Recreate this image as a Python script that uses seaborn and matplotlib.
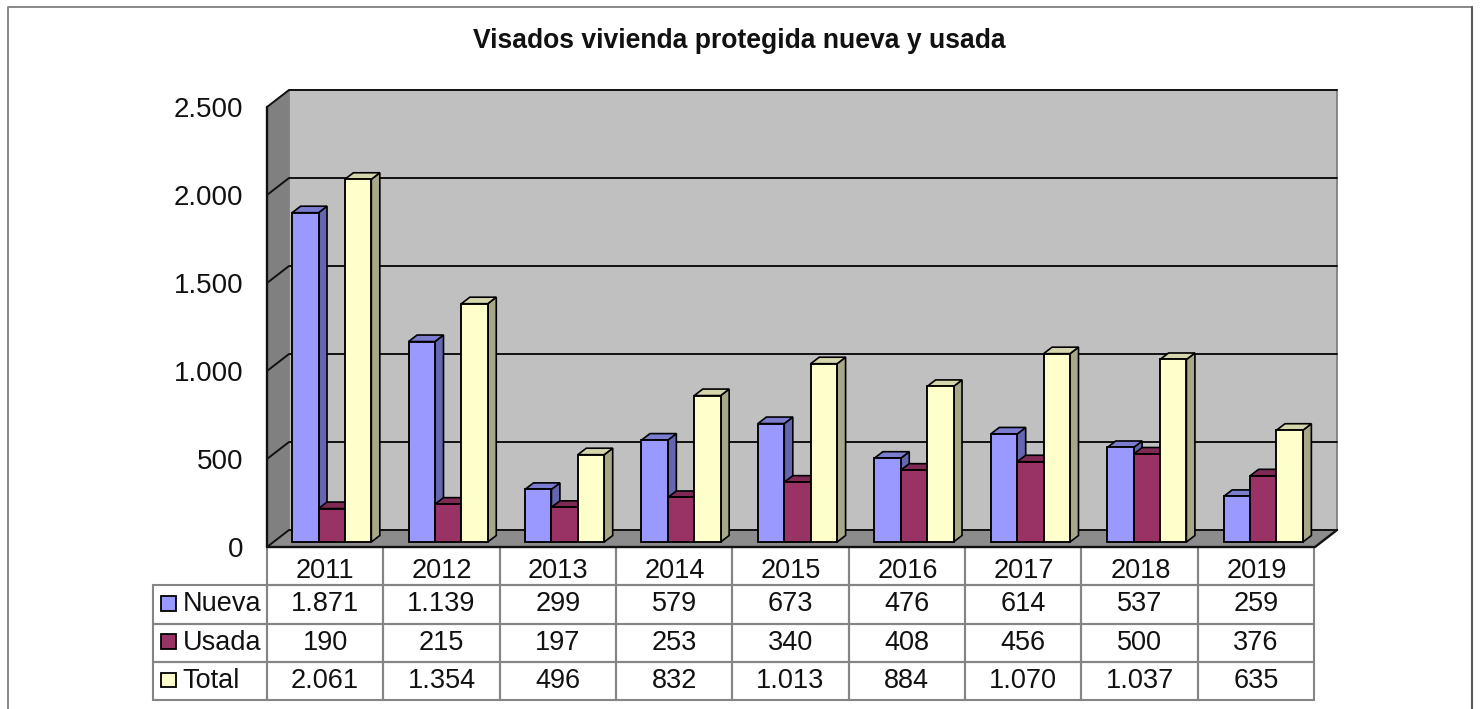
import matplotlib
matplotlib.use("Agg")
import matplotlib.pyplot as plt
import pandas as pd
import seaborn as sns
from matplotlib.patches import Polygon, Rectangle
from matplotlib.lines import Line2D
from matplotlib.table import Table
from matplotlib.transforms import Affine2D

TITLE = "Visados vivienda protegida nueva y usada"
YEARS = ["2011", "2012", "2013", "2014", "2015", "2016", "2017", "2018", "2019"]
NUEVA = [1871, 1139, 299, 579, 673, 476, 614, 537, 259]
USADA = [190, 215, 197, 253, 340, 408, 456, 500, 376]
TOTAL = [2061, 1354, 496, 832, 1013, 884, 1070, 1037, 635]
SERIES = ["Nueva", "Usada", "Total"]
Y_TICKS = [0, 500, 1000, 1500, 2000, 2500]

FRONT = {"Nueva": "#9999FF", "Usada": "#993366", "Total": "#FFFFCC"}
SIDE = {"Nueva": "#6666B0", "Usada": "#661F44", "Total": "#A8A888"}
TOP = {"Nueva": "#7C7CD0", "Usada": "#7F2A55", "Total": "#D6D6AC"}


def fmt(v):
    return f"{v:,}".replace(",", ".")


df = pd.DataFrame({"Año": YEARS * 3,
                   "Serie": [s for s in SERIES for _ in YEARS],
                   "Visados": NUEVA + USADA + TOTAL})

sns.set_theme(style="white")
plt.rcParams["font.family"] = ["Liberation Sans", "DejaVu Sans"]

W, H = 1481, 709
fig = plt.figure(figsize=(W / 100, H / 100), dpi=100, facecolor="white")
L, R, T, B = 267, 1315, 107, 547
ax = fig.add_axes([L / W, (H - B) / H, (R - L) / W, (B - T) / H])

sns.barplot(data=df, x="Año", y="Visados", hue="Serie", order=YEARS, hue_order=SERIES,
            palette=FRONT, width=0.68, gap=0, dodge=True, saturation=1, legend=False,
            edgecolor="black", linewidth=1.35, ax=ax)
ax.set_xlim(-0.5, 8.5)
ax.set_ylim(0, 2500)
ax.set_xlabel("")
ax.set_ylabel("")
for s in ax.spines.values():
    s.set_visible(False)
ax.patch.set_visible(False)
ax.set_yticks(Y_TICKS, [fmt(v) for v in Y_TICKS], fontsize=20, color="#111111")
ax.tick_params(axis="y", length=0, pad=17)
ax.tick_params(axis="x", length=0, pad=8, labelsize=19.5, labelcolor="#111111")


def shift(dx, dy):
    return ax.transData + Affine2D().translate(dx, dy)


# Caja 3D: paredes, suelo y rejilla
WALL_DX, WALL_DY = 22, 17
x0, x1 = -0.5, 8.5
back = shift(WALL_DX, WALL_DY)
ax.add_patch(Rectangle((x0, 0), x1 - x0, 2500, transform=back, fc="#C0C0C0",
                       ec="#808080", lw=1.3, clip_on=False, zorder=0.1))
wall_px = ax.transData.transform([(x0, 0), (x0, 2500)])
floor_px = ax.transData.transform([(x1, 0)])
(lx, by), (_, ty) = wall_px
rx = floor_px[0][0]
ax.add_patch(Polygon([(lx, by), (lx, ty), (lx + WALL_DX, ty + WALL_DY), (lx + WALL_DX, by + WALL_DY)],
                     transform=None, fc="#808080", ec="none", clip_on=False, zorder=0.2))
ax.add_patch(Polygon([(lx, by), (rx, by), (rx + WALL_DX, by + WALL_DY), (lx + WALL_DX, by + WALL_DY)],
                     transform=None, fc="#8C8C8C", ec="none", clip_on=False, zorder=0.2))
for v in Y_TICKS:
    px = ax.transData.transform((x0, v))
    prx = ax.transData.transform((x1, v))
    ax.add_line(Line2D([px[0], px[0] + WALL_DX, prx[0] + WALL_DX],
                       [px[1], px[1] + WALL_DY, prx[1] + WALL_DY],
                       transform=None, color="#111111", lw=1.4, clip_on=False, zorder=0.3))
ax.add_line(Line2D([lx, lx, rx, rx + WALL_DX], [ty, by, by, by + WALL_DY], transform=None,
                   color="#111111", lw=1.7, clip_on=False, zorder=0.4))

# Barras con caras laterales y superior
BAR_DX, BAR_DY = 6.5, 5
SIDE_DX, SIDE_DY = 8.5, 6.5
for h, (serie, cont) in enumerate(zip(SERIES, ax.containers)):
    for i, bar in enumerate(cont.patches):
        z = 1 + i + h * 0.1
        bar.set_transform(shift(BAR_DX, BAR_DY))
        bar.set_zorder(z + 0.02)
        bar.set_clip_on(False)
        (a, b0) = shift(BAR_DX, BAR_DY).transform((bar.get_x(), 0))
        (c, b1) = shift(BAR_DX, BAR_DY).transform((bar.get_x() + bar.get_width(), bar.get_height()))
        ax.add_patch(Polygon([(c, b0), (c + SIDE_DX, b0 + SIDE_DY), (c + SIDE_DX, b1 + SIDE_DY), (c, b1)],
                             transform=None, fc=SIDE[serie], ec="black", lw=1.2,
                             clip_on=False, zorder=z))
        ax.add_patch(Polygon([(a, b1), (a + SIDE_DX, b1 + SIDE_DY), (c + SIDE_DX, b1 + SIDE_DY), (c, b1)],
                             transform=None, fc=TOP[serie], ec="black", lw=1.2,
                             clip_on=False, zorder=z + 0.01))

# Tabla de datos
TL, TB = 153, 700
col0, colw = L - TL, (1314 - L) / len(YEARS)
rowh = (TB - B) / 4
GRID = "#858585"
tab = Table(ax, bbox=[(TL - L) / (R - L), (B - TB) / (B - T), (1314 - TL) / (R - L), (TB - B) / (B - T)])
for c in range(len(YEARS)):
    tab.add_cell(0, c + 1, colw, rowh, text="", edgecolor=GRID, facecolor="none")
for r, (serie, vals) in enumerate(zip(SERIES, [NUEVA, USADA, TOTAL]), start=1):
    cell = tab.add_cell(r, 0, col0, rowh, text=serie, loc="left", edgecolor=GRID, facecolor="none")
    cell.PAD = 29.5 / col0
    for c, v in enumerate(vals):
        tab.add_cell(r, c + 1, colw, rowh, text=fmt(v), loc="center", edgecolor=GRID, facecolor="none")
tab.auto_set_font_size(False)
tab.set_fontsize(19.5)
for cell in tab.get_celld().values():
    cell.set_linewidth(1.5)
    cell.get_text().set_color("#111111")
ax.add_table(tab)

# Muestras de leyenda
for serie, (y0, y1) in zip(SERIES, [(596, 611), (634, 649), (673, 687)]):
    fig.add_artist(Rectangle((161 / W, 1 - y1 / H), 15 / W, (y1 - y0) / H, transform=fig.transFigure,
                             fc=FRONT[serie], ec="black", lw=1.3))

fig.text(739 / W, 1 - 41 / H, TITLE, ha="center", va="center", fontsize=19.1,
         fontweight="bold", color="#111111")

# Marco del gráfico
fig.add_artist(Line2D([8 / W, 8 / W, 1472 / W], [0, 1 - 7 / H, 1 - 7 / H], transform=fig.transFigure,
                      color="#808080", lw=1.3))
fig.add_artist(Line2D([1472 / W, 1472 / W], [0, 1 - 7 / H], transform=fig.transFigure,
                      color="#5A5A5A", lw=1.5))

fig.savefig("out.png", dpi=100, facecolor="white")
